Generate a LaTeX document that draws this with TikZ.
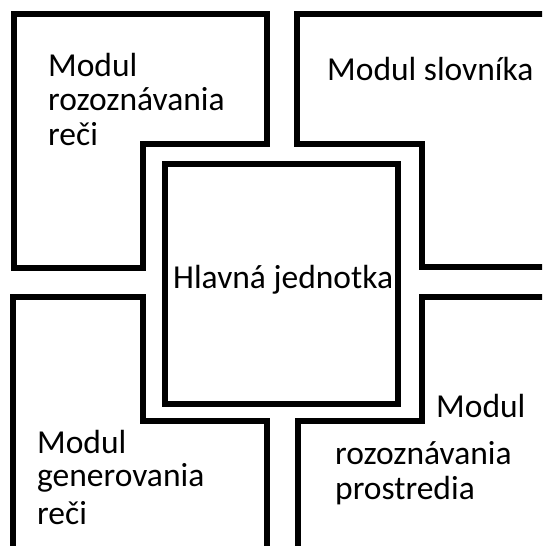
\documentclass[tikz,border=0pt]{standalone}
\usepackage{fontspec}
\setmainfont{Carlito}
\begin{document}
\begin{tikzpicture}[x=1pt,y=-1pt,
  wall/.style={line width=5.5pt, draw=black},
  lbl/.style={anchor=base west, inner sep=0pt, font=\fontsize{33.5}{33.5}\selectfont}]
\useasboundingbox (0,0) rectangle (542,546);
\clip (0,0) rectangle (542,546);
% top-left module
\draw[wall] (14,14) -- (267,14) -- (267,144) -- (143,144) -- (143,268) -- (14,268) -- cycle;
% top-right module
\draw[wall] (560,14) -- (297,14) -- (297,144) -- (422,144) -- (422,267) -- (560,267);
% central unit
\draw[wall] (165,164) rectangle (398,404);
% bottom-left module
\draw[wall] (13,560) -- (13,297) -- (143,297) -- (143,421) -- (267,421) -- (267,560);
% bottom-right module
\draw[wall] (560,297) -- (422,297) -- (422,421) -- (298,421) -- (298,560);
% labels
\node[lbl] (tl1) at (48,76) {Modul};
\node[lbl] (tl2) at (48,110) {rozoznávania};
\node[lbl] (tl3) at (48,145) {reči};
\node[lbl] (tr1) at (327,80) {Modul slovníka};
\node[lbl] (c1) at (173,288) {Hlavná jednotka};
\node[lbl] (bl1) at (37,453) {Modul};
\node[lbl] (bl2) at (37,486) {generovania};
\node[lbl] (bl3) at (37,524) {reči};
\node[lbl] (br1) at (436,417) {Modul};
\node[lbl] (br2) at (335,464) {rozoznávania};
\node[lbl] (br3) at (335,499) {prostredia};
\end{tikzpicture}
\end{document}
